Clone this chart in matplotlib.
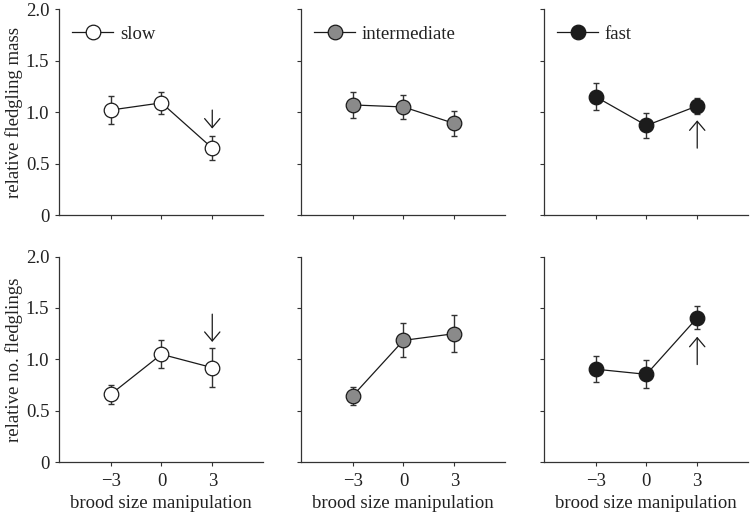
import matplotlib
matplotlib.use("Agg")
import matplotlib.pyplot as plt

plt.rcParams['font.family'] = ['Liberation Serif', 'DejaVu Serif']
plt.rcParams['axes.unicode_minus'] = True

x_vals = [-3, 0, 3]
x_ticklabels = ['\u22123', '0', '3']
groups = ['slow', 'intermediate', 'fast']
group_colors = ['white', '#8a8a8a', '#1c1c1c']

mass_mean = {
    'slow': [1.02, 1.09, 0.65],
    'intermediate': [1.07, 1.05, 0.89],
    'fast': [1.15, 0.87, 1.06],
}
mass_err = {
    'slow': [0.135, 0.11, 0.115],
    'intermediate': [0.125, 0.12, 0.12],
    'fast': [0.13, 0.125, 0.075],
}
fled_mean = {
    'slow': [0.66, 1.05, 0.92],
    'intermediate': [0.645, 1.185, 1.25],
    'fast': [0.905, 0.855, 1.405],
}
fled_err = {
    'slow': [0.095, 0.135, 0.19],
    'intermediate': [0.085, 0.165, 0.18],
    'fast': [0.125, 0.136, 0.11],
}
# arrows: (row, group) -> (x, y_start, y_end)
arrows = {
    (0, 'slow'): (3, 1.02, 0.84),
    (0, 'fast'): (3, 0.65, 0.92),
    (1, 'slow'): (3, 1.44, 1.17),
    (1, 'fast'): (3, 0.95, 1.22),
}
ylabels = ['relative fledgling mass', 'relative no. fledglings']
xlabel = 'brood size manipulation'
yticks = [0, 0.5, 1.0, 1.5, 2.0]
yticklabels = ['0', '0.5', '1.0', '1.5', '2.0']

fig = plt.figure(figsize=(7.52, 5.15), dpi=100)
lefts = [0.0785, 0.4003, 0.7234]
bottoms = [0.5825, 0.1023]
w, h = 0.2713, 0.3996
spine_c = '#333333'
fs = 13.5

for r in range(2):
    means = mass_mean if r == 0 else fled_mean
    errs = mass_err if r == 0 else fled_err
    for c, g in enumerate(groups):
        ax = fig.add_axes([lefts[c], bottoms[r], w, h])
        ax.errorbar(x_vals, means[g], yerr=errs[g], fmt='none', ecolor='#333333',
                    elinewidth=1.0, capsize=2.2, capthick=1.0, zorder=2)
        ax.plot(x_vals, means[g], '-', color='#1a1a1a', lw=0.9, marker='o',
                markersize=10.5, markerfacecolor=group_colors[c],
                markeredgecolor='#1a1a1a', markeredgewidth=0.9, zorder=3,
                label=g)
        key = (r, g)
        if key in arrows:
            ax_x, y0, y1 = arrows[key]
            ax.annotate('', xy=(ax_x, y1), xytext=(ax_x, y0),
                        arrowprops=dict(arrowstyle='->,head_length=0.65,head_width=0.55',
                                        color='#1a1a1a', lw=0.9, shrinkA=0, shrinkB=0))
        ax.set_xlim(-6.05, 6.0)
        ax.set_ylim(0, 2.0)
        ax.set_xticks(x_vals)
        ax.set_yticks(yticks)
        for s in ['top', 'right']:
            ax.spines[s].set_visible(False)
        for s in ['left', 'bottom']:
            ax.spines[s].set_color(spine_c)
            ax.spines[s].set_linewidth(0.9)
        ax.tick_params(axis='both', direction='out', length=3, width=0.8,
                       color=spine_c, labelsize=fs, labelcolor='#222222', pad=4)
        if c == 0:
            ax.set_yticklabels(yticklabels)
            ax.set_ylabel(ylabels[r], fontsize=fs, color='#222222', labelpad=2)
        else:
            ax.set_yticklabels([])
        if r == 1:
            ax.set_xticklabels(x_ticklabels)
            ax.tick_params(axis='x', pad=5)
            ax.set_xlabel(xlabel, fontsize=fs, color='#222222', labelpad=3)
        else:
            ax.set_xticklabels([])
            ax.legend(loc='upper left', bbox_to_anchor=(0.0, 0.985), frameon=False,
                      fontsize=fs, handlelength=2.2, handletextpad=0.35,
                      borderaxespad=0.3, labelcolor='#222222')

fig.savefig('out.png', dpi=100)
